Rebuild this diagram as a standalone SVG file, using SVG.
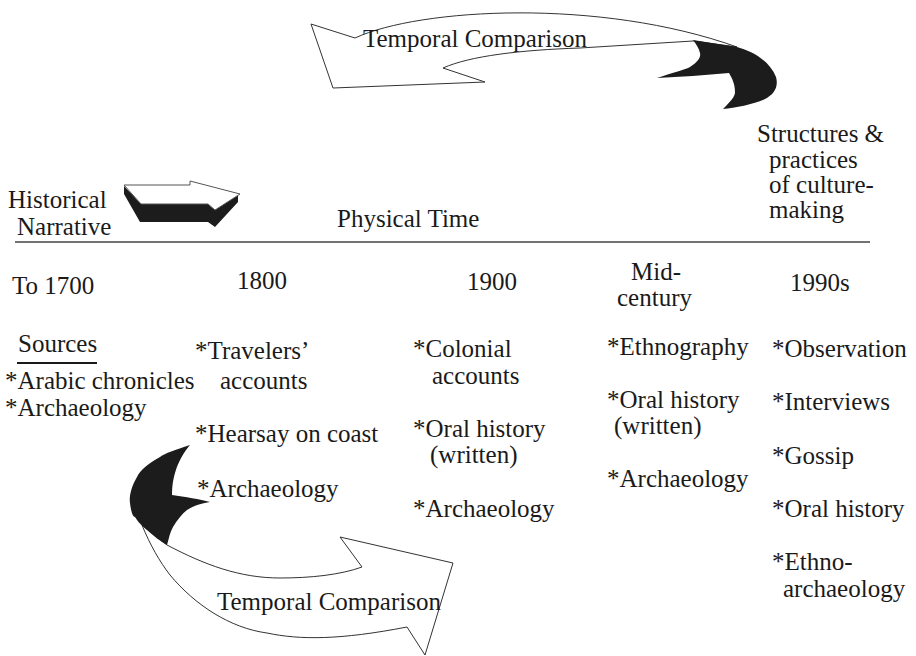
<svg xmlns="http://www.w3.org/2000/svg" width="916" height="656" viewBox="0 0 916 656">
<style>
.t text{font-family:"Liberation Serif","Times New Roman",serif;font-size:25px;fill:#1a1a1a}
.w{fill:#fff;stroke:#333;stroke-width:1}
.b{fill:#1c1c1c;stroke:none}
</style>
<rect width="916" height="656" fill="#fff"/>
<g id="connectors">
<g id="top-arrow">
<path class="w" d="M311,24 L355,38 C420,8 600,-2 737,47 L693,41 L580,48 C520,50 470,56 443,68 L485,82 L333,88 Z"/>
<path class="b" d="M693,40 L737,47 C755,52 770,62 776,77 C779,88 773,95 765,99 C755,104 735,108 723,109 C730,102 735,97 735,92 C735,84 732,78 729,73 C705,75 680,77 657,78 C672,73 684,70 690,67 C698,62 701,57 700,53 C699,48 696,44 693,40 Z"/>
</g>
<g id="bottom-arrow">
<path class="w" d="M142,525 C150,545 160,562 170,575 C195,605 230,628 267,633 C300,640 340,640 407,627 L425,655 L453,563 L340,537 L362,567 C340,575 310,578 280,578 C240,578 205,565 167,545 Z"/>
<path class="b" d="M190,445 C175,450 165,453 160,457 C148,464 140,470 137,477 C131,487 129,497 130,503 C131,512 133,517 135,517 C140,525 145,528 147,530 C155,537 160,541 167,545 C169,538 170,532 173,527 C177,520 182,514 187,510 C195,505 203,503 210,502 C200,499 185,497 172,495 C172,486 173,480 175,473 C178,462 184,452 190,445 Z"/>
</g>
<g id="small-arrow">
<path class="b" d="M124,186 L141,204 L208,204 L215,210 L238,195 L238,202 L215,227 L208,222 L140,222 L124,194 Z"/>
<path fill="#fff" stroke="#555" stroke-width="1" d="M124,185 L190,185 L190,181 L240,194 L215,210 L208,204 L141,204 Z"/>
</g>
<line id="time-axis" x1="15" y1="242" x2="870" y2="242" stroke="#444" stroke-width="1.3"/>
<line id="sources-underline" x1="17" y1="363" x2="97" y2="363" stroke="#1a1a1a" stroke-width="2"/>
</g>
<g class="t">
<g id="label-top-comparison"><text x="363" y="47">Temporal Comparison</text></g>
<g id="label-bottom-comparison"><text x="217" y="610">Temporal Comparison</text></g>
<g id="historical-narrative"><text x="8" y="208">Historical</text><text x="17" y="235">Narrative</text></g>
<g id="physical-time"><text x="337" y="227">Physical Time</text></g>
<g id="structures"><text x="757" y="142">Structures &amp;</text><text x="769" y="168">practices</text><text x="769" y="193">of culture-</text><text x="769" y="218">making</text></g>
<g id="col-1700">
<text x="12" y="294">To 1700</text>
<text x="18" y="352">Sources</text>
<text x="5" y="389">*Arabic chronicles</text>
<text x="5" y="416">*Archaeology</text>
</g>
<g id="col-1800">
<text x="237" y="289">1800</text>
<text x="195" y="359">*Travelers’</text>
<text x="220" y="389">accounts</text>
<text x="195" y="442">*Hearsay on coast</text>
<text x="197" y="497">*Archaeology</text>
</g>
<g id="col-1900">
<text x="467" y="290">1900</text>
<text x="413" y="357">*Colonial</text>
<text x="432" y="384">accounts</text>
<text x="413" y="437">*Oral history</text>
<text x="430" y="463">(written)</text>
<text x="413" y="517">*Archaeology</text>
</g>
<g id="col-midcentury">
<text x="631" y="280">Mid-</text>
<text x="617" y="306">century</text>
<text x="607" y="355">*Ethnography</text>
<text x="607" y="408">*Oral history</text>
<text x="614" y="434">(written)</text>
<text x="607" y="487">*Archaeology</text>
</g>
<g id="col-1990s">
<text x="790" y="291">1990s</text>
<text x="772" y="357">*Observation</text>
<text x="772" y="410">*Interviews</text>
<text x="772" y="464">*Gossip</text>
<text x="772" y="517">*Oral history</text>
<text x="772" y="570">*Ethno-</text>
<text x="783" y="597">archaeology</text>
</g>
</g>
</svg>
